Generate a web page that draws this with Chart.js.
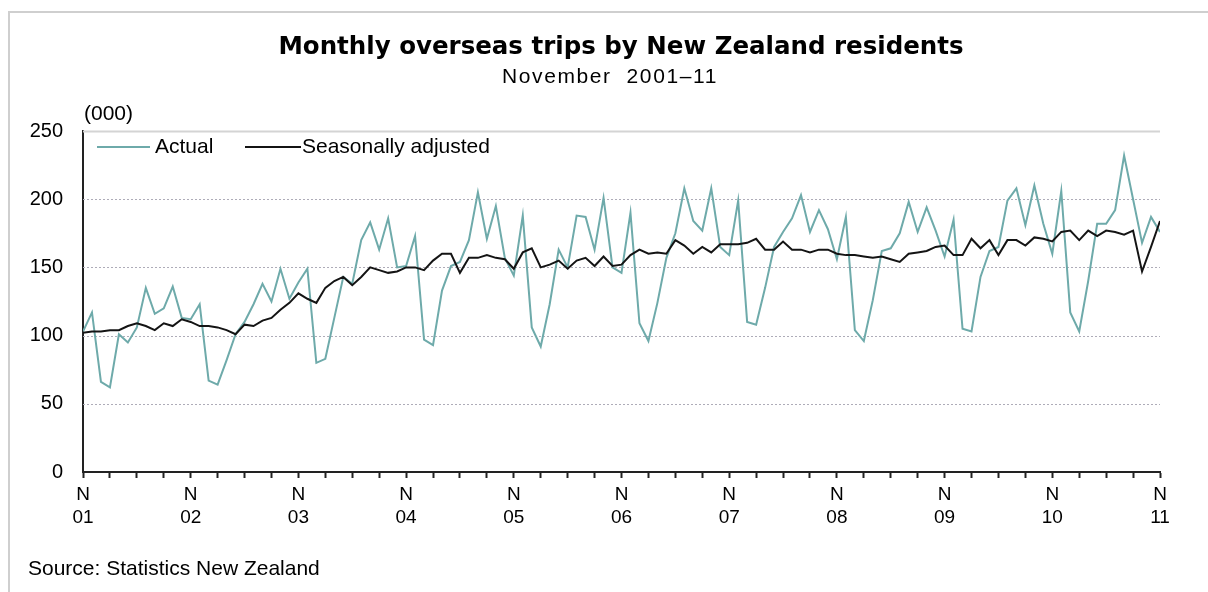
<!DOCTYPE html>
<html>
<head>
<meta charset="utf-8">
<script src="https://cdn.jsdelivr.net/npm/chart.js@4"></script>
<style>
  html, body { margin: 0; padding: 0; background: #fff; }
  #wrap { width: 1208px; height: 592px; }
</style>
</head>
<body>
<div id="wrap"><canvas id="tripsChart" width="1208" height="592"></canvas></div>
<script>
// Datos: viajes mensuales (miles), nov 2001 - nov 2011
const yearLabels = ['01', '02', '03', '04', '05', '06', '07', '08', '09', '10', '11'];
const yTicks = [0, 50, 100, 150, 200, 250];

const actual = [
    103, 117, 66, 62, 101, 95, 106, 135, 116, 120, 136, 113,
    112, 123, 67, 64, 82, 101, 110, 123, 138, 125, 149, 127,
    139, 149, 80, 83, 113, 143, 138, 170, 183, 163, 186, 150,
    151, 173, 97, 93, 133, 151, 154, 170, 205, 171, 195, 157,
    144, 188, 106, 92, 123, 163, 150, 188, 187, 163, 201, 150,
    146, 190, 109, 96, 124, 157, 175, 208, 184, 177, 208, 165,
    159, 199, 110, 108, 135, 165, 176, 186, 203, 176, 192, 178,
    156, 187, 104, 96, 126, 162, 164, 175, 198, 176, 194, 177,
    158, 185, 105, 103, 143, 162, 165, 199, 208, 181, 210, 182,
    160, 206, 117, 103, 140, 182, 182, 192, 232, 200, 168, 187,
    176
];

const adjusted = [
    102, 103, 103, 104, 104, 107, 109, 107, 104, 109, 107, 112,
    110, 107, 107, 106, 104, 101, 108, 107, 111, 113, 119, 124,
    131, 127, 124, 135, 140, 143, 137, 143, 150, 148, 146, 147,
    150, 150, 148, 155, 160, 160, 146, 157, 157, 159, 157, 156,
    149, 161, 164, 150, 152, 155, 149, 155, 157, 151, 158, 151,
    152, 159, 163, 160, 161, 160, 170, 166, 160, 165, 161, 167,
    167, 167, 168, 171, 163, 163, 169, 163, 163, 161, 163, 163,
    160, 159, 159, 158, 157, 158, 156, 154, 160, 161, 162, 165,
    166, 159, 159, 171, 164, 170, 159, 170, 170, 166, 172, 171,
    169, 176, 177, 170, 177, 173, 177, 176, 174, 177, 147, 165,
    184
];

const TEAL = '#6eaaaa';
const DARK = '#141414';
const FONT = '"Liberation Sans", Arial, sans-serif';

function toPoints(arr) {
    return arr.map((v, i) => ({ x: i, y: v }));
}

// Lineas de cuadricula, textos y leyenda
const decorPlugin = {
    id: 'decor',
    beforeDatasetsDraw(chart) {
        const { ctx, chartArea, scales } = chart;
        const y = scales.y;
        ctx.save();
        yTicks.forEach(v => {
            if (v === 0) return;
            const py = Math.round(y.getPixelForValue(v)) + 0.5;
            ctx.beginPath();
            if (v === 250) {
                ctx.strokeStyle = '#d4d4d4';
                ctx.lineWidth = 2;
                ctx.setLineDash([]);
            } else {
                ctx.strokeStyle = '#aeacb8';
                ctx.lineWidth = 1;
                ctx.setLineDash([2, 2]);
            }
            ctx.moveTo(chartArea.left, py);
            ctx.lineTo(chartArea.right, py);
            ctx.stroke();
        });
        ctx.restore();
    },
    afterDraw(chart) {
        const { ctx } = chart;
        ctx.save();

        // marco
        ctx.strokeStyle = '#cfcfcf';
        ctx.lineWidth = 2;
        ctx.beginPath();
        ctx.moveTo(9, 592);
        ctx.lineTo(9, 12);
        ctx.lineTo(1208, 12);
        ctx.stroke();

        ctx.fillStyle = '#000';
        ctx.textBaseline = 'alphabetic';

        // titulo
        ctx.textAlign = 'center';
        ctx.font = 'bold 24.5px "DejaVu Sans", Verdana, sans-serif';
        ctx.fillText('Monthly overseas trips by New Zealand residents', 621, 54);

        ctx.font = '21px ' + FONT;
        if ('letterSpacing' in ctx) ctx.letterSpacing = '1.6px';
        ctx.fillText('November  2001\u201311', 610, 83);
        if ('letterSpacing' in ctx) ctx.letterSpacing = '0px';

        ctx.textAlign = 'left';
        ctx.textBaseline = 'middle';
        ctx.font = '21px ' + FONT;
        ctx.fillText('(000)', 84, 114);

        // leyenda
        const ly = 147;
        ctx.lineWidth = 2;
        ctx.strokeStyle = TEAL;
        ctx.beginPath();
        ctx.moveTo(97, ly);
        ctx.lineTo(150, ly);
        ctx.stroke();
        ctx.fillText('Actual', 155, ly);

        ctx.strokeStyle = DARK;
        ctx.beginPath();
        ctx.moveTo(245, ly);
        ctx.lineTo(301, ly);
        ctx.stroke();
        ctx.fillText('Seasonally adjusted', 302, ly);

        // fuente
        ctx.font = '21px ' + FONT;
        ctx.fillText('Source: Statistics New Zealand', 28, 569);

        ctx.restore();
    }
};

new Chart(document.getElementById('tripsChart'), {
    type: 'line',
    data: {
        datasets: [
            {
                label: 'Seasonally adjusted',
                data: toPoints(adjusted),
                borderColor: DARK,
                borderWidth: 2,
                pointRadius: 0,
                tension: 0,
                order: 0
            },
            {
                label: 'Actual',
                data: toPoints(actual),
                borderColor: TEAL,
                borderWidth: 2,
                pointRadius: 0,
                tension: 0,
                order: 1
            }
        ]
    },
    options: {
        responsive: false,
        animation: false,
        devicePixelRatio: 1,
        layout: { padding: { top: 131, right: 48, bottom: 50, left: 0 } },
        plugins: {
            legend: { display: false },
            tooltip: { enabled: false },
            title: { display: false }
        },
        scales: {
            x: {
                type: 'linear',
                min: 0,
                max: actual.length - 1,
                afterFit(scale) { scale.height = 70; },
                afterBuildTicks(scale) {
                    const ticks = [];
                    for (let i = 0; i < actual.length; i += 3) ticks.push({ value: i });
                    scale.ticks = ticks;
                },
                grid: {
                    display: true,
                    drawOnChartArea: false,
                    drawTicks: true,
                    tickLength: 6,
                    tickWidth: 2,
                    tickColor: '#222'
                },
                border: { display: true, color: '#222', width: 2 },
                ticks: {
                    autoSkip: false,
                    maxRotation: 0,
                    padding: 6,
                    color: '#000',
                    font: { family: FONT, size: 19, lineHeight: 1.18 },
                    callback(value) {
                        if (value % 12 !== 0) return '';
                        return ['N', yearLabels[value / 12]];
                    }
                }
            },
            y: {
                min: 0,
                max: 250,
                afterFit(scale) { scale.width = 83; },
                afterBuildTicks(scale) {
                    scale.ticks = yTicks.map(v => ({ value: v }));
                },
                grid: { display: false, drawTicks: false },
                border: { display: true, color: '#222', width: 2 },
                ticks: {
                    padding: 20,
                    color: '#000',
                    font: { family: FONT, size: 20 }
                }
            }
        }
    },
    plugins: [decorPlugin]
});
</script>
</body>
</html>
